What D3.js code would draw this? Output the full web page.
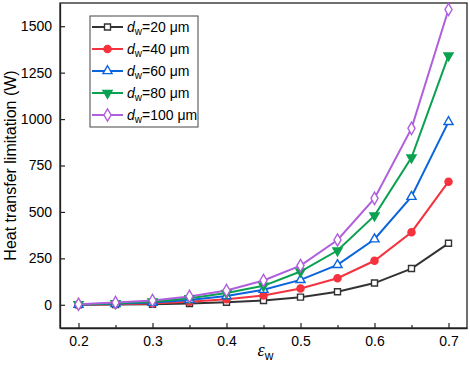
<!DOCTYPE html>
<html>
<head>
<meta charset="utf-8">
<script src="https://cdn.jsdelivr.net/npm/d3@7"></script>
<style>
	body { margin: 0; background: #fff; }
	text { font-family: Arial, "Liberation Sans", sans-serif; }
</style>
</head>
<body>
<svg id="chart" width="470" height="365"></svg>
<script>
// emissivity values on the x axis
var emissivity = [0.2, 0.25, 0.3, 0.35, 0.4, 0.45, 0.5, 0.55, 0.6, 0.65, 0.7];
var diameters = [20, 40, 60, 80, 100];

// heat transfer limitation (W), one array per wick diameter
var d20 = [0, 1, 3, 7, 14, 23, 41, 70, 117, 195, 331];
var d40 = [1, 3, 7, 16, 30, 50, 88, 143, 237, 391, 663];
var d60 = [1, 5, 12, 26, 47, 81, 134, 215, 353, 582, 985];
var d80 = [2, 8, 17, 35, 63, 102, 179, 292, 480, 793, 1342];
var d100 = [3, 12, 23, 45, 77, 131, 211, 349, 573, 950, 1590];

var xTicks = [0.2, 0.3, 0.4, 0.5, 0.6, 0.7];
var xMinor = [0.25, 0.35, 0.45, 0.55, 0.65];
var yTicks = [0, 250, 500, 750, 1000, 1250, 1500];

var seriesValues = [d20, d40, d60, d80, d100];
var colors = ["#333333", "#f5333f", "#0a64dc", "#0aa150", "#b05fdc"];
var symbols = ["square", "circle", "triangle", "triangleDown", "diamond"];

var svg = d3.select("#chart");
var margin = {left: 60, top: 3, right: 3, bottom: 37};
var w = 470 - margin.left - margin.right;
var h = 365 - margin.top - margin.bottom;

var x = d3.scaleLinear().domain([0.175, 0.725]).range([0, w]);
var y = d3.scaleLinear().domain([-125, 1625]).range([h, 0]);

var g = svg.append("g")
			.attr("transform", "translate(" + margin.left + "," + margin.top + ")");

// axes, ticks pointing inward
var xAxis = g.append("g")
			.attr("transform", "translate(0," + h + ")")
			.call(d3.axisBottom(x).tickValues(xTicks).tickFormat(d3.format(".1f")).tickSizeInner(-5).tickSizeOuter(0));
xAxis.selectAll("text").attr("y", 8).attr("dy", "0.71em").style("font-size", "14px");

g.append("g")
	.attr("transform", "translate(0," + h + ")")
	.call(d3.axisBottom(x).tickValues(xMinor).tickFormat("").tickSizeInner(-3).tickSizeOuter(0))
	.select(".domain").remove();

var yAxis = g.append("g")
			.call(d3.axisLeft(y).tickValues(yTicks).tickFormat(d3.format("d")).tickSizeInner(-5).tickSizeOuter(0));
yAxis.selectAll("text").attr("x", -8).style("font-size", "14px");

svg.selectAll(".tick line").attr("stroke", "#222").attr("stroke-width", 1.2);
svg.selectAll(".domain").attr("stroke", "#222").attr("stroke-width", 1.3);

// frame
g.append("rect")
	.attr("width", w).attr("height", h)
	.attr("fill", "none").attr("stroke", "#222").attr("stroke-width", 1.3);

// axis titles
svg.append("text")
	.attr("transform", "translate(16," + (margin.top + h / 2) + ") rotate(-90)")
	.attr("text-anchor", "middle")
	.style("font-size", "16px")
	.text("Heat transfer limitation (W)");

var xt = svg.append("text")
	.attr("x", margin.left + x(0.45) + 2)
	.attr("y", 356)
	.attr("text-anchor", "middle")
	.style("font-size", "15px");
xt.append("tspan").style("font-style", "italic").style("font-family", "'Times New Roman', 'Liberation Serif', serif").style("font-size", "18px").text("ε");
xt.append("tspan").attr("dy", 4).style("font-size", "12px").text("w");

function symbolPath(name, size)
{
	if(name === "triangleDown")
		return d3.symbol().type(d3.symbolTriangle).size(size)();
	var types = {square: d3.symbolSquare, circle: d3.symbolCircle, triangle: d3.symbolTriangle, diamond: d3.symbolDiamond};
	return d3.symbol().type(types[name]).size(size)();
}

var line = d3.line()
			.x(function(d, j) { return x(emissivity[j]); })
			.y(function(d) { return y(d); });

seriesValues.forEach(function(vals, i)
{
	g.append("path")
		.datum(vals)
		.attr("d", line)
		.attr("fill", "none")
		.attr("stroke", colors[i])
		.attr("stroke-width", 2);
});

seriesValues.forEach(function(vals, i)
{
	var filled = (i === 1 || i === 3);
	var rot = symbols[i] === "triangleDown" ? " rotate(180)" : "";
	var size = symbols[i] === "diamond" ? 44 : (symbols[i] === "circle" ? 40 : 36);
	g.selectAll(".m" + i)
		.data(vals)
		.enter()
		.append("path")
			.attr("class", "m" + i)
			.attr("d", symbolPath(symbols[i], size))
			.attr("transform", function(d, j) { return "translate(" + x(emissivity[j]) + "," + y(d) + ")" + rot; })
			.attr("fill", filled ? colors[i] : "#fff")
			.attr("stroke", colors[i])
			.attr("stroke-width", 1.4);
});

// legend
var legend = svg.append("g").attr("transform", "translate(90,16)");
legend.append("rect")
	.attr("width", 108).attr("height", 111)
	.attr("fill", "#fff").attr("stroke", "#444").attr("stroke-width", 1);

diameters.forEach(function(dw, i)
{
	var yy = 11 + i * 22;
	var filled = (i === 1 || i === 3);
	var rot = symbols[i] === "triangleDown" ? " rotate(180)" : "";
	var size = symbols[i] === "diamond" ? 44 : (symbols[i] === "circle" ? 40 : 36);
	legend.append("line")
		.attr("x1", 2).attr("x2", 33).attr("y1", yy).attr("y2", yy)
		.attr("stroke", colors[i]).attr("stroke-width", 2);
	legend.append("path")
		.attr("d", symbolPath(symbols[i], size))
		.attr("transform", "translate(17.5," + yy + ")" + rot)
		.attr("fill", filled ? colors[i] : "#fff")
		.attr("stroke", colors[i])
		.attr("stroke-width", 1.4);
	var t = legend.append("text")
		.attr("x", 37).attr("y", yy + 5)
		.style("font-size", "14px");
	t.append("tspan").style("font-style", "italic").text("d");
	t.append("tspan").attr("dy", 3).style("font-size", "10px").text("w");
	t.append("tspan").attr("dy", -3).text("=" + dw + " μm");
});
</script>
</body>
</html>
